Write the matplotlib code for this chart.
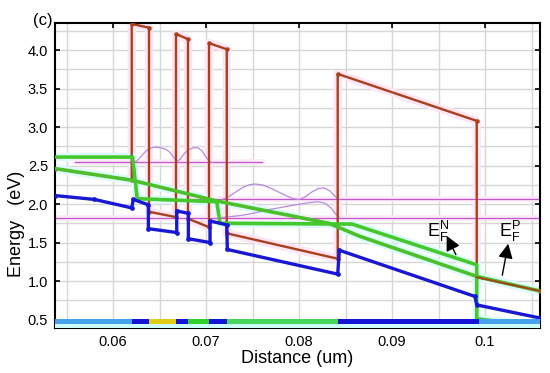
import matplotlib
matplotlib.use("Agg")
import matplotlib.pyplot as plt
from matplotlib.ticker import MultipleLocator, FixedLocator

plt.rcParams['font.family'] = ['Liberation Sans', 'DejaVu Sans']
plt.rcParams['mathtext.fontset'] = 'custom'
plt.rcParams['mathtext.rm'] = 'Liberation Sans'
plt.rcParams['mathtext.it'] = 'Liberation Sans'

# ---- data (distance in um, energy in eV) ----
cb_x = [0.05376, 0.06201, 0.06201, 0.06387, 0.06387, 0.06677, 0.06677, 0.06806, 0.06806,
        0.07032, 0.07032, 0.07223, 0.07223, 0.08416, 0.08416, 0.09911, 0.09911, 0.10591]
cb_e = [2.46, 2.31, 4.34, 4.29, 1.90, 1.83, 4.21, 4.14, 1.81,
        1.70, 4.09, 4.01, 1.62, 1.29, 3.69, 3.08, 1.05, 0.87]

vb_x = [0.05376, 0.05800, 0.06201, 0.06218, 0.06380, 0.06380, 0.06685, 0.06685, 0.06810,
        0.06810, 0.07043, 0.07043, 0.07223, 0.07229, 0.08416, 0.08433, 0.09892, 0.09911, 0.10591]
vb_e = [2.11, 2.06, 1.95, 2.06, 1.99, 1.68, 1.63, 1.91, 1.88,
        1.55, 1.50, 1.78, 1.73, 1.41, 1.09, 1.40, 0.80, 0.69, 0.52]

efn_x = [0.05376, 0.06210, 0.06260, 0.07115, 0.07151, 0.08570, 0.09911, 0.09911, 0.10591]
efn_e = [2.61, 2.61, 2.07, 2.03, 1.75, 1.74, 1.21, 0.51, 0.41]

efp_x = [0.05376, 0.06201, 0.07115, 0.08320, 0.08656, 0.09911, 0.10591]
efp_e = [2.46, 2.31, 2.04, 1.75, 1.58, 1.06, 0.87]

lev_e = [2.54, 2.06, 1.825]
lev_x0 = [0.05591, 0.06828, 0.05376]
lev_x1 = [0.07602, 0.10591, 0.10591]

wf1_x = [0.06215, 0.06258, 0.06301, 0.06355, 0.06409, 0.06462, 0.06516, 0.06570, 0.06613, 0.06656,
         0.06688, 0.06720, 0.06763, 0.06806, 0.06860, 0.06914, 0.06957, 0.07000, 0.07032, 0.07065]
wf1_e = [2.54, 2.56, 2.62, 2.69, 2.73, 2.74, 2.73, 2.71, 2.67, 2.60,
         2.555, 2.58, 2.65, 2.70, 2.73, 2.73, 2.69, 2.61, 2.56, 2.54]

wf2_x = [0.07172, 0.07237, 0.07312, 0.07387, 0.07462, 0.07527, 0.07602, 0.07688, 0.07774, 0.07860,
         0.07935, 0.08000, 0.08065, 0.08129, 0.08204, 0.08269, 0.08333, 0.08387, 0.08441]
wf2_e = [2.06, 2.09, 2.15, 2.21, 2.25, 2.26, 2.25, 2.21, 2.16, 2.11,
         2.07, 2.06, 2.09, 2.15, 2.20, 2.21, 2.17, 2.10, 2.06]

wf3_x = [0.07172, 0.07366, 0.07505, 0.07688, 0.07871, 0.08011, 0.08118, 0.08204, 0.08280, 0.08344, 0.08387, 0.08430]
wf3_e = [1.825, 1.85, 1.88, 1.93, 1.97, 2.00, 2.02, 2.03, 2.01, 1.95, 1.88, 1.83]

layer_edges = [0.05376, 0.0620, 0.0639, 0.0668, 0.0681, 0.0703, 0.0723, 0.0842, 0.0993, 0.10591]
layer_colors = ['#45a2ec', '#1414d6', '#e4cc14', '#1414d6', '#2ed22a', '#1414d6', '#46d65c', '#1414d6', '#45a2ec']

xticks = [0.06, 0.07, 0.08, 0.09, 0.1]
xticklabels = ['0.06', '0.07', '0.08', '0.09', '0.1']
yticks = [0.5, 1.0, 1.5, 2.0, 2.5, 3.0, 3.5, 4.0]
yticklabels = ['0.5', '1.0', '1.5', '2.0', '2.5', '3.0', '3.5', '4.0']

# ---- figure ----
fig = plt.figure(figsize=(5.5, 3.73), dpi=100)
ax = fig.add_axes([0.1, 0.1206, 0.8818, 0.8177])
ax.set_xlim(0.05376, 0.10591)
ax.set_ylim(0.39, 4.351)

ax.xaxis.set_major_locator(FixedLocator(xticks))
ax.set_xticklabels(xticklabels)
ax.yaxis.set_major_locator(FixedLocator(yticks))
ax.set_yticklabels(yticklabels)
ax.xaxis.set_minor_locator(MultipleLocator(0.005))
ax.yaxis.set_minor_locator(MultipleLocator(0.25))
ax.grid(which='both', color='#d6d6d6', linewidth=1.0, zorder=0)
ax.set_axisbelow(True)
ax.tick_params(which='major', direction='in', length=3.5, width=1.2, top=True, right=True,
               labelsize=10.5, pad=5)
ax.tick_params(which='minor', length=0)
for s in ax.spines.values():
    s.set_linewidth(1.5)
    s.set_color('black')

# haze behind lines
ax.plot(cb_x, cb_e, color='#ffe4f5', lw=6, zorder=1, solid_capstyle='butt')
ax.plot(efn_x, efn_e, color='#dcfcfc', lw=6, zorder=1)
ax.plot(efp_x, efp_e, color='#dcfcfc', lw=6, zorder=1)
for e, a, b in zip(lev_e, lev_x0, lev_x1):
    ax.plot([a, b], [e, e], color='#feeaf8', lw=4, zorder=1)

# energy levels and wavefunctions
for e, a, b in zip(lev_e, lev_x0, lev_x1):
    ax.plot([a, b], [e, e], color='#c454cc', lw=0.9, zorder=2)
ax.plot(wf1_x, wf1_e, color='#b98ade', lw=0.9, zorder=2)
ax.plot(wf2_x, wf2_e, color='#b98ade', lw=0.9, zorder=2)
ax.plot(wf3_x, wf3_e, color='#b98ade', lw=0.9, zorder=2)

# bands
ax.plot(cb_x, cb_e, color='#a8401c', lw=1.7, marker='o', ms=2.2, zorder=3)
ax.plot(efp_x, efp_e, color='#4cbf2a', lw=2.6, zorder=4)
ax.plot(efn_x, efn_e, color='#44c82c', lw=2.6, zorder=4)
ax.plot(cb_x[-2:], cb_e[-2:], color='#a8401c', lw=1.4, zorder=5)
ax.plot(vb_x, vb_e, color='#1818d2', lw=2.4, marker='o', ms=2.4, zorder=5)

# layer bar
ax.axhspan(0.39, 0.445, color='#ccfcfc', zorder=6, lw=0)
for i, c in enumerate(layer_colors):
    ax.broken_barh([(layer_edges[i], layer_edges[i + 1] - layer_edges[i])], (0.44, 0.065),
                   facecolors=c, zorder=7)

# annotations
ax.annotate('', xy=(0.09575, 1.62), xytext=(0.09700, 1.31),
            arrowprops=dict(arrowstyle='-|>', color='black', lw=1.0, mutation_scale=22), zorder=8)
ax.annotate('', xy=(0.10255, 1.52), xytext=(0.10180, 1.04),
            arrowprops=dict(arrowstyle='-|>', color='black', lw=1.0, mutation_scale=22), zorder=8)
ax.text(0.09380, 1.575, r'$\mathrm{E_F^N}$', fontsize=13, ha='left', va='baseline', zorder=8)
ax.text(0.10150, 1.575, r'$\mathrm{E_F^P}$', fontsize=13, ha='left', va='baseline', zorder=8)

ax.set_xlabel('Distance (um)', fontsize=13, labelpad=1)
ax.set_ylabel('Energy   (eV)', fontsize=13)
ax.yaxis.set_label_coords(-0.062, 0.34)
fig.text(0.078, 0.946, '(c)', fontsize=12, ha='center', va='center')

fig.savefig('out.png', dpi=100)
